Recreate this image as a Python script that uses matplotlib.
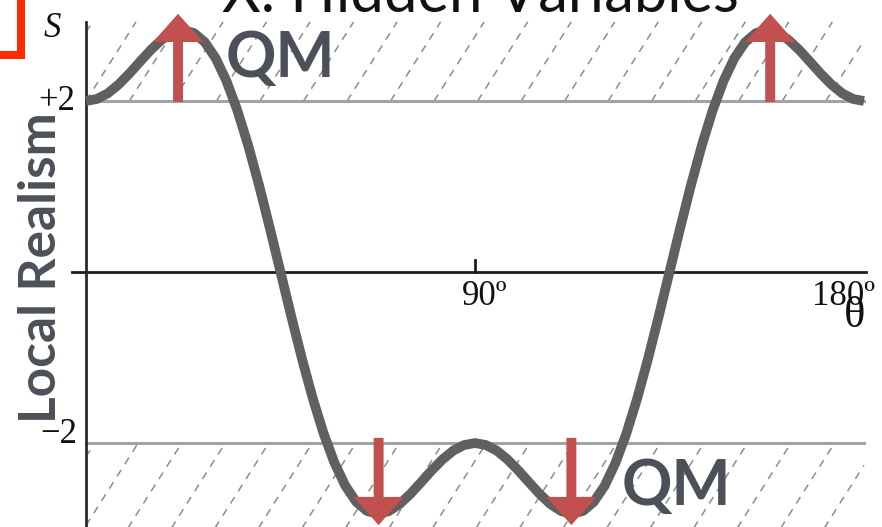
import matplotlib
matplotlib.use("Agg")
import matplotlib.pyplot as plt
from matplotlib.patches import Rectangle
import numpy as np

# Bell/CHSH correlation S as a function of analyser angle theta (degrees)
theta_deg = [i * 2.5 for i in range(73)]
s_values = [
    2.000, 2.023, 2.088, 2.191, 2.319, 2.460, 2.598, 2.716, 2.798, 2.828,
    2.794, 2.687, 2.500, 2.234, 1.892, 1.484, 1.021, 0.520, 0.000, -0.520,
    -1.021, -1.484, -1.892, -2.234, -2.500, -2.687, -2.794, -2.828, -2.798,
    -2.716, -2.598, -2.460, -2.319, -2.191, -2.088, -2.023, -2.000,
    -2.023, -2.088, -2.191, -2.319, -2.460, -2.598, -2.716, -2.798, -2.828,
    -2.794, -2.687, -2.500, -2.234, -1.892, -1.484, -1.021, -0.520, 0.000,
    0.520, 1.021, 1.484, 1.892, 2.234, 2.500, 2.687, 2.794, 2.828, 2.798,
    2.716, 2.598, 2.460, 2.319, 2.191, 2.088, 2.023, 2.000,
]

# Local-realism bound
bound = 2.0

# Violation arrows: angle, start, tip
arrow_theta = [21.3, 67.7, 112.3, 158.3]
arrow_start = [1.99, -1.94, -1.94, 1.99]
arrow_tip = [3.02, -2.96, -2.96, 3.02]

x_ticks = [90, 180]
x_tick_labels = ["90º", "180º"]

W, H = 882, 527
fig = plt.figure(figsize=(W / 100, H / 100), dpi=100)
ax = fig.add_axes([0, 0, 1, 1])
ax.set_xlim(-19.9, 184.17)
ax.set_ylim(-2.982, 3.181)
ax.axis("off")

serif = ["Liberation Serif", "DejaVu Serif"]
sans = ["Lato", "DejaVu Sans"]
label_color = "#4c5159"

# Hatched "forbidden" bands beyond the bound (dashed diagonals)
band_top = 2.925
dtheta_per_s = 11.57 / 0.924
spacing = 10.07
hatch_color = "#8c8c8c"
for lo, hi, phase in [(bound, band_top, 31.7), (-3.2, -bound, 2.0)]:
    for k in range(-40, 40):
        x_hi = phase + k * spacing
        x_lo = x_hi - (hi - lo) * dtheta_per_s
        if x_hi < 0 or x_lo > 180:
            continue
        t0 = (0 - x_lo) / (x_hi - x_lo) if x_lo < 0 else 0.0
        t1 = (180 - x_lo) / (x_hi - x_lo) if x_hi > 180 else 1.0
        px = x_lo + np.array([t0, t1]) * (x_hi - x_lo)
        py = lo + np.array([t0, t1]) * (hi - lo)
        ax.plot(px, py, color=hatch_color, lw=1.1, ls=(0, (5, 4.5)), zorder=1)

# Bound lines
for b in (bound, -bound):
    ax.plot([0, 180], [b, b], color="#a3a3a3", lw=2.2, zorder=2)

# Axes lines
ax.plot([-3.3, 180.5], [0, 0], color="#1e1e1e", lw=2.0, zorder=2)
ax.plot([0, 0], [band_top, -3.2], color="#2a2a2a", lw=2.0, zorder=2)
ax.plot([x_ticks[0], x_ticks[0]], [0, 0.14], color="#1e1e1e", lw=2.0,
        zorder=2)

# Curve
ax.plot(theta_deg, s_values, color="#606060", lw=7.0, zorder=3,
        solid_joinstyle="round", solid_capstyle="butt")

# Arrows
for t, s0, s1 in zip(arrow_theta, arrow_start, arrow_tip):
    ax.arrow(t, s0, 0, s1 - s0, width=2.3, head_width=11.6, head_length=0.33,
             length_includes_head=True, color="#c2504e", lw=0, zorder=4)

# Tick labels
ax.text(-2.55, 1.895, "+2", fontsize=25, family=serif, ha="right",
        va="baseline", color="#111111")
ax.text(-2.1, -2.0, "\u22122", fontsize=25, family=serif, ha="right",
        va="baseline", color="#111111")
ax.text(86.9, -0.386, x_tick_labels[0], fontsize=25, family=serif,
        ha="left", va="baseline", color="#111111")
ax.text(168.0, -0.386, x_tick_labels[1], fontsize=25, family=serif,
        ha="left", va="baseline", color="#111111")
ax.text(180.2, -0.643, "θ", fontsize=32, family=serif, ha="right",
        va="baseline", color="#111111")
ax.text(-7.9, 2.749, "S", fontsize=25, family=serif, style="italic",
        ha="center", va="baseline", color="#111111")

# Annotations
ax.text(-10.3, 0.047, "Local Realism", fontsize=37, family=sans,
        weight="bold", rotation=90, ha="center", va="center",
        color=label_color)
ax.text(44.9, 2.281, "QM", fontsize=45, family=sans, weight="bold",
        ha="center", va="baseline", color=label_color)
ax.text(136.7, -2.725, "QM", fontsize=45, family=sans, weight="bold",
        ha="center", va="baseline", color=label_color)

# Title (partly above the canvas)
ax.text((480 - 86) / 4.3222, 3.035, "X. Hidden Variables",
        fontsize=43, family=sans, weight="normal", ha="center",
        va="baseline", color="#111111", clip_on=False)

# Red corner bracket
fig.add_artist(Rectangle((17 / W, 1 - 59 / H), 8 / W, 59 / H,
                         transform=fig.transFigure, color="#ff2a00", lw=0))
fig.add_artist(Rectangle((0, 1 - 59 / H), 25 / W, 8 / H,
                         transform=fig.transFigure, color="#ff2a00", lw=0))

fig.savefig("out.png", dpi=100)
